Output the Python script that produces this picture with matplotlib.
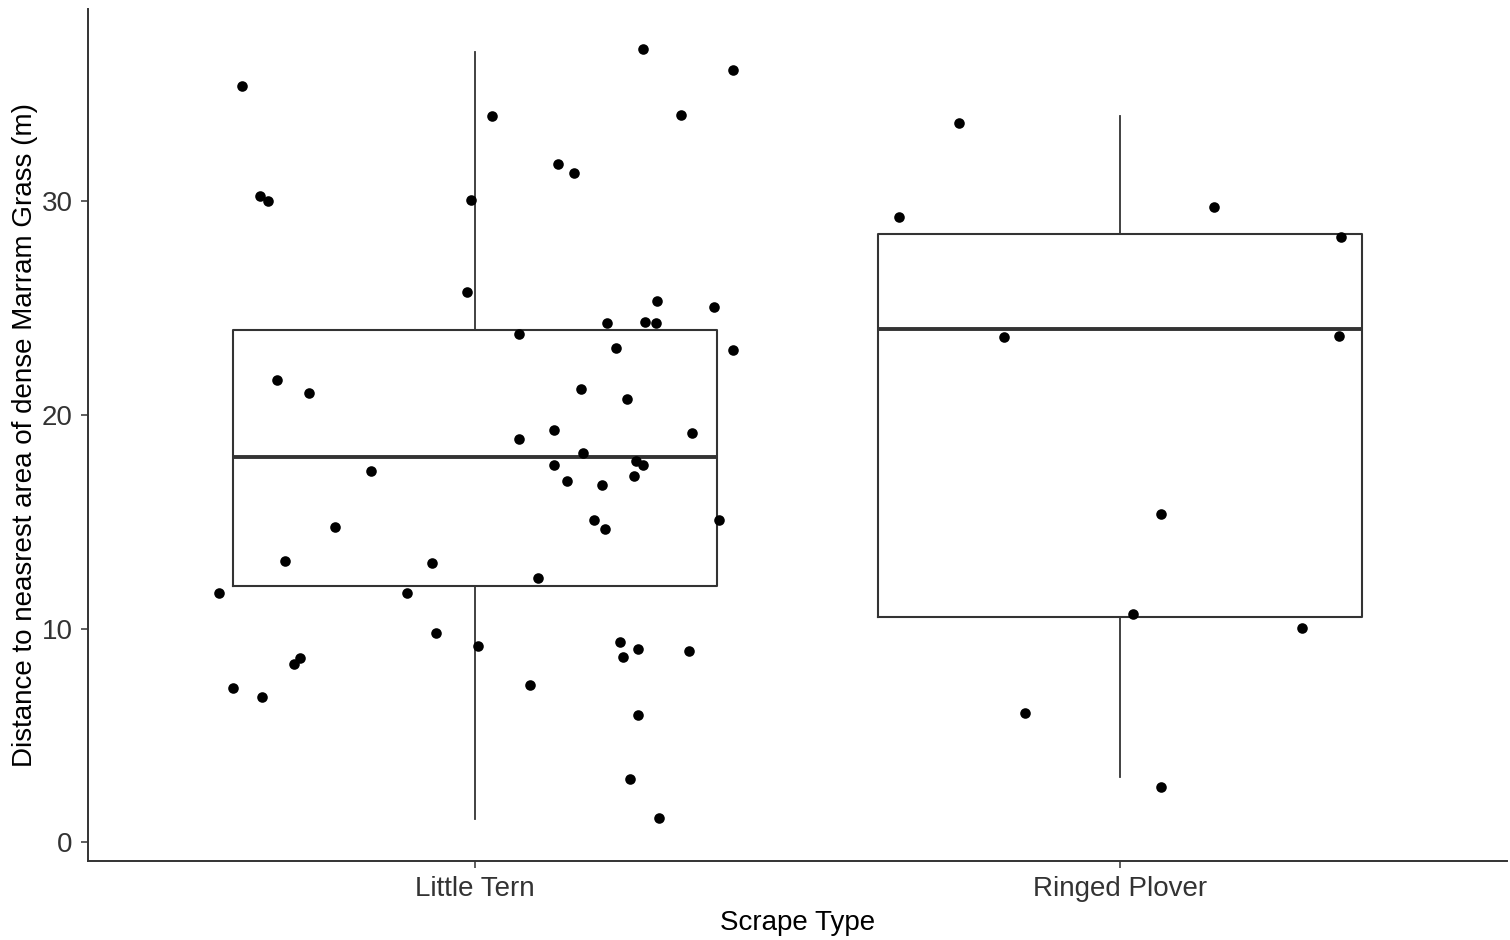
import numpy as np
import matplotlib
matplotlib.use("Agg")
import matplotlib.pyplot as plt

plt.rcParams['font.family'] = ['Liberation Sans', 'DejaVu Sans']

# categories and box statistics
categories = ["Little Tern", "Ringed Plover"]
box_q1 = [12.00, 10.55]
box_med = [18.04, 24.00]
box_q3 = [23.95, 28.47]
whisk_lo = [1.08, 3.06]
whisk_hi = [36.97, 33.97]

# jittered points: horizontal offset from the category centre, value
lt_offset = [-0.362, 0.260, 0.400, 0.027, 0.320, -0.334, -0.321, -0.006, 0.129, 0.153,
             -0.013, 0.282, 0.370, 0.263, 0.280, 0.205, 0.068, 0.219, 0.400, -0.307,
             -0.257, 0.164, 0.235, 0.123, 0.337, 0.068, 0.167, -0.162, 0.123, 0.249,
             0.260, 0.246, 0.142, 0.197, 0.184, 0.202, 0.378, -0.217, -0.294, -0.066,
             0.098, -0.397, -0.105, -0.060, 0.225, 0.252, 0.331, 0.005, 0.230, -0.271,
             -0.281, -0.376, 0.085, -0.331, 0.252, 0.241, 0.285]
lt_value = [35.37, 37.11, 36.11, 33.96, 34.04, 30.23, 29.99, 30.06, 31.73, 31.31,
            25.76, 25.34, 25.03, 24.35, 24.28, 24.28, 23.78, 23.11, 23.03, 21.63,
            21.03, 21.21, 20.72, 19.29, 19.13, 18.88, 18.23, 17.38, 17.65, 17.84,
            17.65, 17.15, 16.90, 16.73, 15.08, 14.66, 15.08, 14.74, 13.16, 13.08,
            12.35, 11.68, 11.68, 9.78, 9.36, 9.03, 8.95, 9.18, 8.68, 8.61,
            8.35, 7.22, 7.36, 6.78, 5.95, 2.98, 1.15]
rp_offset = [-0.249, -0.342, 0.146, 0.343, -0.180, 0.340, 0.063, 0.020, 0.282, -0.148, 0.063]
rp_value = [33.64, 29.24, 29.74, 28.33, 23.62, 23.71, 15.34, 10.69, 10.04, 6.07, 2.58]

fig = plt.figure(figsize=(15.1, 9.4), dpi=100)
ax = fig.add_axes([0.0583, 0.0843, 0.9397, 0.9058])

stats = []
for i in range(len(categories)):
    stats.append({"label": categories[i], "q1": box_q1[i], "med": box_med[i],
                  "q3": box_q3[i], "whislo": whisk_lo[i], "whishi": whisk_hi[i],
                  "fliers": []})

ax.bxp(stats, positions=[1, 2], widths=0.75, showcaps=False, showfliers=False,
       boxprops=dict(color="#333333", linewidth=1.5),
       whiskerprops=dict(color="#333333", linewidth=1.3),
       medianprops=dict(color="#333333", linewidth=2.8),
       zorder=1)

ax.scatter(1 + np.array(lt_offset), lt_value, s=58, color="black", zorder=3, linewidths=0)
ax.scatter(2 + np.array(rp_offset), rp_value, s=58, color="black", zorder=3, linewidths=0)

ax.set_xlim(0.4, 2.6)
ax.set_ylim(-0.86, 38.97)
ax.set_yticks([0, 10, 20, 30])
ax.set_xticks([1, 2])
ax.set_xticklabels(categories)

for side in ["top", "right"]:
    ax.spines[side].set_visible(False)
for side in ["left", "bottom"]:
    ax.spines[side].set_linewidth(1.4)
    ax.spines[side].set_color("#333333")

ax.tick_params(axis="both", length=5, width=1.1, color="#333333",
               labelsize=20, labelcolor="#333333")
ax.tick_params(axis="x", pad=6)
ax.tick_params(axis="y", pad=6)

ax.set_xlabel("Scrape Type", fontsize=20, labelpad=6)
ax.set_ylabel("Distance to neasrest area of dense Marram Grass (m)", fontsize=20, labelpad=3)

fig.savefig("out.png", dpi=100)
